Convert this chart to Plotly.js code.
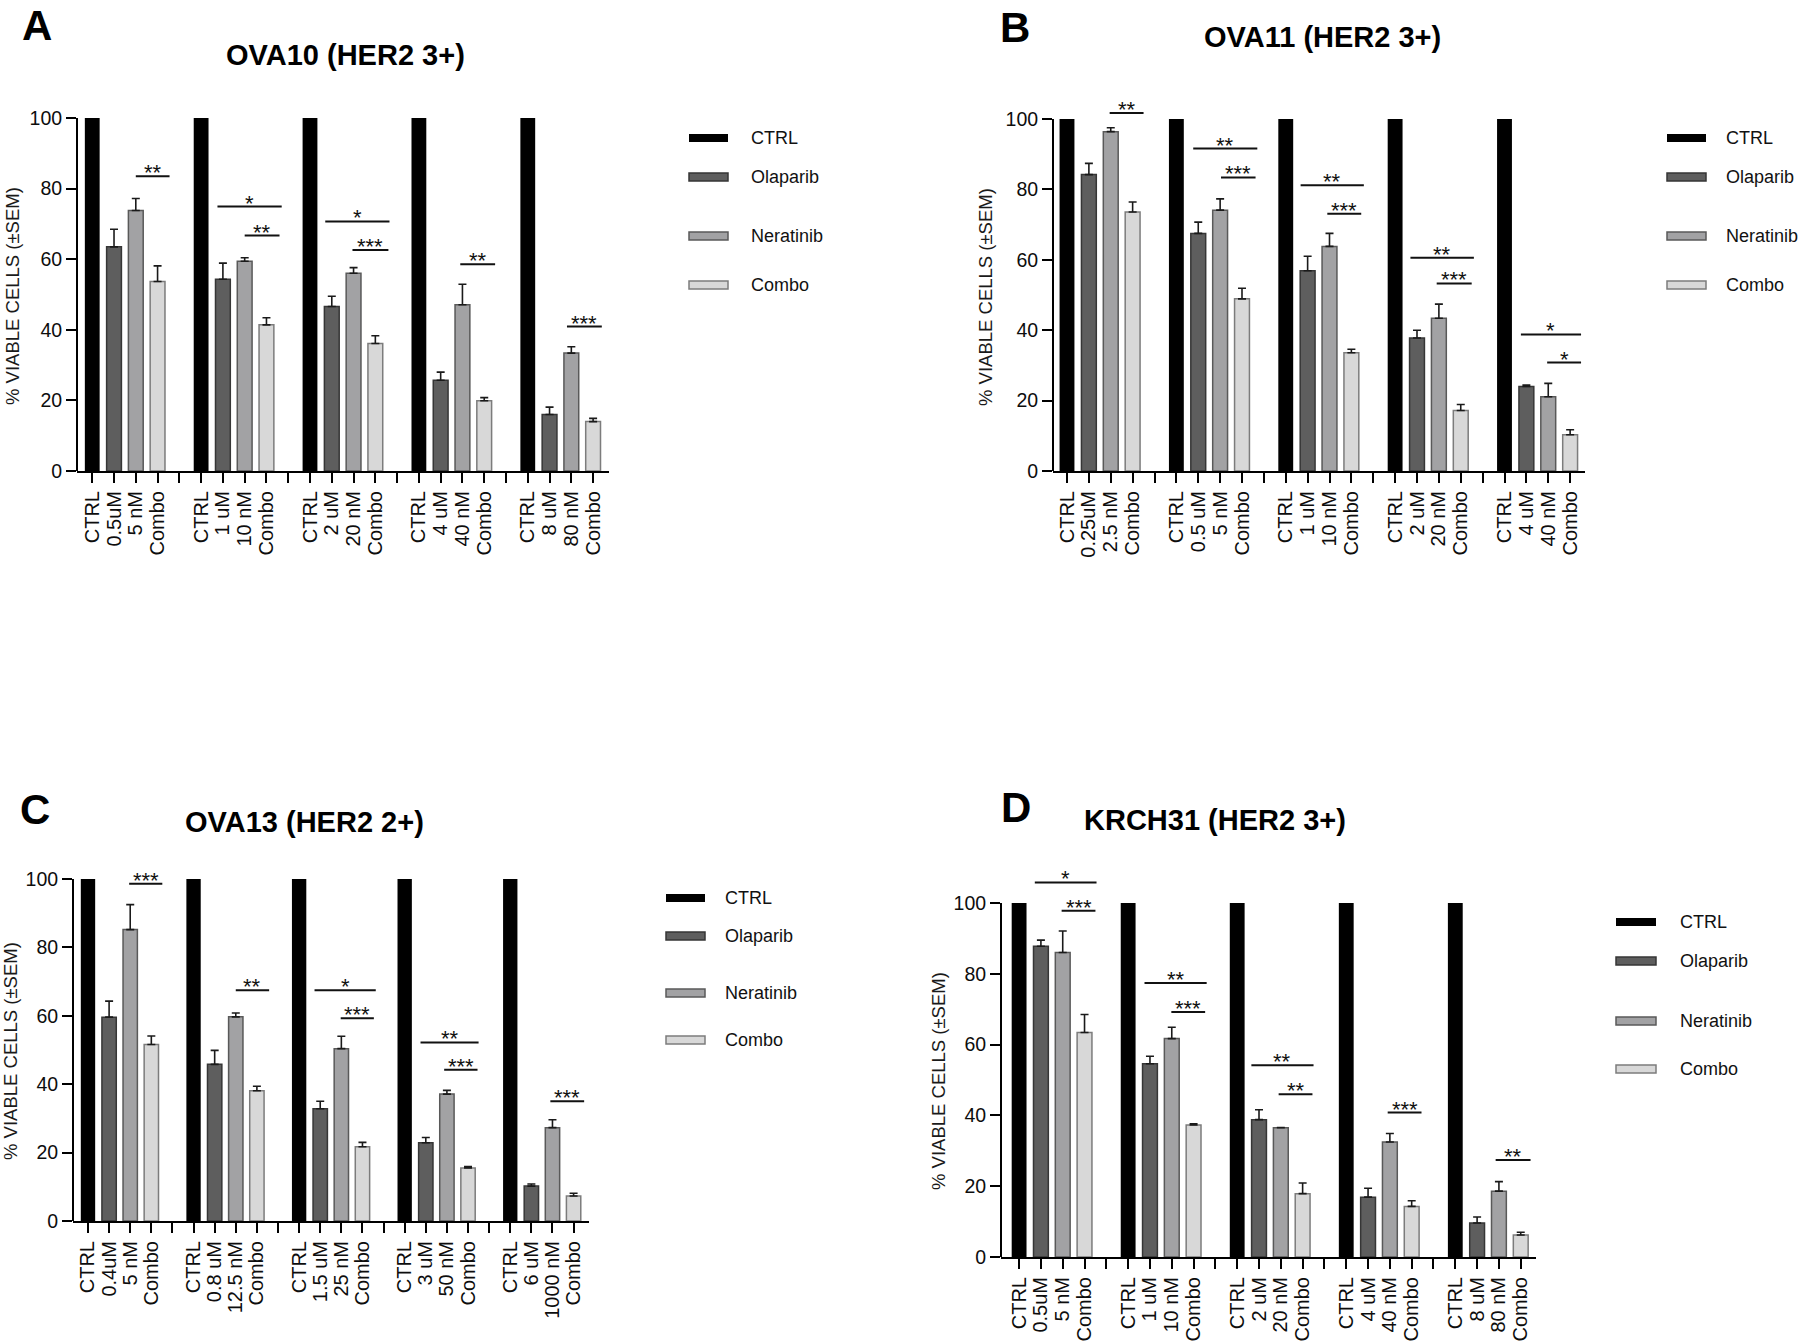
<!DOCTYPE html>
<html>
<head>
<meta charset="utf-8">
<script src="https://cdn.plot.ly/plotly-3.0.1.min.js"></script>
<style>
  html, body { margin: 0; padding: 0; background: #ffffff; }
  #chart { width: 1800px; height: 1342px; }
</style>
</head>
<body>
<div id="chart"></div>
<script>
// ---------------- DATA ----------------
const seriesNames = ['CTRL', 'Olaparib', 'Neratinib', 'Combo'];

// Panel A - OVA10 (HER2 3+)
const A_olapLabels = ['0.5uM', '1 uM', '2 uM', '4 uM', '8 uM'];
const A_neraLabels = ['5 nM', '10 nM', '20 nM', '40 nM', '80 nM'];
const A_ctrl      = [100, 100, 100, 100, 100];
const A_olap      = [63.5, 54.3, 46.6, 25.7, 16.0];
const A_olapErr   = [5.0, 4.6, 2.9, 2.3, 2.1];
const A_nera      = [73.8, 59.4, 56.0, 47.1, 33.4];
const A_neraErr   = [3.4, 1.0, 1.6, 5.8, 1.8];
const A_combo     = [53.7, 41.4, 36.1, 19.9, 14.0];
const A_comboErr  = [4.4, 2.0, 2.2, 0.9, 0.9];
// significance brackets: [from slot, to slot, level, label]
const A_sig = [
  [2.0, 3.55, 83.5, '**'],
  [5.75, 8.7, 74.9, '*'],
  [7.0, 8.6, 66.7, '**'],
  [10.7, 13.65, 70.7, '*'],
  [11.95, 13.6, 62.6, '***'],
  [16.9, 18.5, 58.6, '**'],
  [21.8, 23.4, 40.9, '***']
];

// Panel B - OVA11 (HER2 3+)
const B_olapLabels = ['0.25uM', '0.5 uM', '1 uM', '2 uM', '4 uM'];
const B_neraLabels = ['2.5 nM', '5 nM', '10 nM', '20 nM', '40 nM'];
const B_ctrl      = [100, 100, 100, 100, 100];
const B_olap      = [84.2, 67.5, 56.9, 37.8, 24.0];
const B_olapErr   = [3.2, 3.2, 4.1, 2.2, 0.4];
const B_nera      = [96.4, 74.1, 63.8, 43.4, 21.1];
const B_neraErr   = [1.1, 3.2, 3.7, 4.0, 3.8];
const B_combo     = [73.6, 48.9, 33.6, 17.2, 10.3];
const B_comboErr  = [2.8, 3.0, 1.0, 1.7, 1.4];
const B_sig = [
  [1.95, 3.5, 101.7, '**'],
  [5.77, 8.7, 91.6, '**'],
  [7.04, 8.62, 83.4, '***'],
  [10.68, 13.57, 81.2, '**'],
  [11.9, 13.45, 73.1, '***'],
  [15.7, 18.6, 60.6, '**'],
  [16.9, 18.5, 53.3, '***'],
  [20.75, 23.5, 38.8, '*'],
  [21.95, 23.5, 30.8, '*']
];

// Panel C - OVA13 (HER2 2+)
const C_olapLabels = ['0.4uM', '0.8 uM', '1.5 uM', '3 uM', '6 uM'];
const C_neraLabels = ['5 nM', '12.5 nM', '25 nM', '50 nM', '1000 nM'];
const C_ctrl      = [100, 100, 100, 100, 100];
const C_olap      = [59.6, 45.8, 32.8, 22.9, 10.2];
const C_olapErr   = [4.7, 4.1, 2.2, 1.5, 0.6];
const C_nera      = [85.2, 59.7, 50.4, 37.1, 27.3];
const C_neraErr   = [7.3, 1.1, 3.6, 1.1, 2.3];
const C_combo     = [51.6, 38.1, 21.7, 15.5, 7.3];
const C_comboErr  = [2.5, 1.3, 1.3, 0.4, 0.8];
const C_sig = [
  [1.95, 3.52, 98.6, '***'],
  [7.0, 8.58, 67.5, '**'],
  [10.73, 13.63, 67.5, '*'],
  [11.97, 13.54, 59.3, '***'],
  [15.75, 18.5, 52.2, '**'],
  [16.87, 18.45, 44.2, '***'],
  [21.9, 23.5, 35.0, '***']
];

// Panel D - KRCH31 (HER2 3+)
const D_olapLabels = ['0.5uM', '1 uM', '2 uM', '4 uM', '8 uM'];
const D_neraLabels = ['5 nM', '10 nM', '20 nM', '40 nM', '80 nM'];
const D_ctrl      = [100, 100, 100, 100, 100];
const D_olap      = [87.8, 54.6, 38.8, 16.9, 9.6];
const D_olapErr   = [1.7, 2.1, 2.8, 2.5, 1.7];
const D_nera      = [86.0, 61.7, 36.5, 32.5, 18.6];
const D_neraErr   = [6.1, 3.2, 0.1, 2.4, 2.7];
const D_combo     = [63.4, 37.3, 17.9, 14.3, 6.2];
const D_comboErr  = [5.1, 0.3, 3.0, 1.6, 0.8];
const D_sig = [
  [0.72, 3.55, 105.8, '*'],
  [1.95, 3.5, 97.8, '***'],
  [5.75, 8.6, 77.4, '**'],
  [6.98, 8.53, 69.2, '***'],
  [10.65, 13.5, 54.2, '**'],
  [11.9, 13.45, 46.0, '**'],
  [16.9, 18.45, 40.8, '***'],
  [21.85, 23.45, 27.4, '**']
];

// ---------------- STYLE / LAYOUT ----------------
const W = 1800, H = 1342;
const FONT = 'Liberation Sans, Arial, Helvetica, sans-serif';
const fills = ['#000000', '#5e5e5e', '#a2a2a4', '#d8d8d8'];
const edges = ['#000000', '#363636', '#595959', '#7c7c7c'];
const YMAX = 110;

const panels = [
  { letter: 'A', title: 'OVA10 (HER2 3+)', olapLabels: A_olapLabels, neraLabels: A_neraLabels,
    vals: [A_ctrl, A_olap, A_nera, A_combo], errs: [null, A_olapErr, A_neraErr, A_comboErr], sig: A_sig,
    g: { x0: 77, x1: 609, yTop: 118, yBot: 471, xmin: -0.7, xmax: 23.73 },
    letterPos: [37, 26], titlePos: [345, 55], yTitlePos: [12, 296],
    legend: { sx: 689, sw: 39, tx: 749, ys: [138, 177, 236, 285] } },
  { letter: 'B', title: 'OVA11 (HER2 3+)', olapLabels: B_olapLabels, neraLabels: B_neraLabels,
    vals: [B_ctrl, B_olap, B_nera, B_combo], errs: [null, B_olapErr, B_neraErr, B_comboErr], sig: B_sig,
    g: { x0: 1053, x1: 1585, yTop: 119, yBot: 471, xmin: -0.64, xmax: 23.68 },
    letterPos: [1015, 27], titlePos: [1322, 37], yTitlePos: [985, 297],
    legend: { sx: 1667, sw: 39, tx: 1724, ys: [138, 177, 236, 285] } },
  { letter: 'C', title: 'OVA13 (HER2 2+)', olapLabels: C_olapLabels, neraLabels: C_neraLabels,
    vals: [C_ctrl, C_olap, C_nera, C_combo], errs: [null, C_olapErr, C_neraErr, C_comboErr], sig: C_sig,
    g: { x0: 73, x1: 589, yTop: 879, yBot: 1221, xmin: -0.71, xmax: 23.73 },
    letterPos: [35, 809], titlePos: [304, 822], yTitlePos: [10, 1051],
    legend: { sx: 666, sw: 39, tx: 723, ys: [898, 936, 993, 1040] } },
  { letter: 'D', title: 'KRCH31 (HER2 3+)', olapLabels: D_olapLabels, neraLabels: D_neraLabels,
    vals: [D_ctrl, D_olap, D_nera, D_combo], errs: [null, D_olapErr, D_neraErr, D_comboErr], sig: D_sig,
    g: { x0: 1001, x1: 1536, yTop: 903, yBot: 1257, xmin: -0.83, xmax: 23.7 },
    letterPos: [1016, 807], titlePos: [1215, 820], yTitlePos: [938, 1081],
    legend: { sx: 1616, sw: 40, tx: 1678, ys: [922, 961, 1021, 1069] } }
];

const px = v => v / W;
const py = v => 1 - v / H;

const traces = [];
const layout = {
  width: W, height: H,
  margin: { l: 0, r: 0, t: 0, b: 0 },
  paper_bgcolor: '#ffffff', plot_bgcolor: 'rgba(0,0,0,0)',
  showlegend: false,
  barmode: 'overlay',
  font: { family: FONT, color: '#000' },
  shapes: [], annotations: []
};

panels.forEach((p, i) => {
  const n = i === 0 ? '' : String(i + 1);
  const xa = 'x' + n, ya = 'y' + n;
  const g = p.g;

  // bars
  for (let s = 0; s < 4; s++) {
    const xs = p.vals[s].map((_, k) => k * 5 + s);
    const tr = {
      type: 'bar', x: xs, y: p.vals[s], name: seriesNames[s],
      xaxis: xa, yaxis: ya, width: 0.68,
      marker: { color: fills[s], line: { color: edges[s], width: s === 0 ? 0 : 1.5 } },
      hoverinfo: 'skip'
    };
    if (p.errs[s]) {
      tr.error_y = { type: 'data', symmetric: false, array: p.errs[s],
                     arrayminus: p.errs[s].map(() => 0),
                     color: '#1a1a1a', thickness: 1.6, width: 4 };
    }
    traces.push(tr);
  }

  // tick labels for every slot (gap slots blank)
  const tickvals = [], ticktext = [];
  for (let k = 0; k < 5; k++) {
    const labs = ['CTRL', p.olapLabels[k], p.neraLabels[k], 'Combo'];
    for (let s = 0; s < 4; s++) { tickvals.push(k * 5 + s); ticktext.push(labs[s]); }
    if (k < 4) { tickvals.push(k * 5 + 4); ticktext.push(''); }
  }

  const pxPerUnit = (g.yBot - g.yTop) / 100;
  const yTopExt = g.yBot - pxPerUnit * YMAX;

  layout['xaxis' + n] = {
    domain: [px(g.x0), px(g.x1)], anchor: ya, range: [g.xmin, g.xmax],
    tickmode: 'array', tickvals: tickvals, ticktext: ticktext, tickangle: -90,
    ticks: 'outside', ticklen: 10, tickwidth: 2, tickcolor: '#000',
    showline: true, linewidth: 2, linecolor: '#000',
    showgrid: false, zeroline: false, fixedrange: true,
    tickfont: { family: FONT, size: 20, color: '#0d0d0d' }
  };
  layout['yaxis' + n] = {
    domain: [py(g.yBot), py(yTopExt)], anchor: xa, range: [0, YMAX],
    tickmode: 'array', tickvals: [0, 20, 40, 60, 80, 100],
    ticks: 'outside', ticklen: 10, tickwidth: 2, tickcolor: '#000',
    showline: false, showgrid: false, zeroline: false, fixedrange: true,
    tickfont: { family: FONT, size: 19.5, color: '#0d0d0d' }
  };

  // y axis line from 0 to 100 only
  layout.shapes.push({ type: 'line', xref: xa + ' domain', yref: ya, x0: 0, x1: 0, y0: 0, y1: 100,
                       line: { color: '#000', width: 2 } });

  // significance brackets
  p.sig.forEach(sg => {
    layout.shapes.push({ type: 'line', xref: xa, yref: ya, x0: sg[0], x1: sg[1], y0: sg[2], y1: sg[2],
                         line: { color: '#111', width: 2 } });
    layout.annotations.push({ xref: xa, yref: ya, x: (sg[0] + sg[1]) / 2, y: sg[2], text: sg[3],
                              showarrow: false, xanchor: 'center', yanchor: 'bottom', yshift: -11,
                              font: { family: FONT, size: 22, color: '#111' } });
  });

  // legend (manual, uneven spacing as in reference)
  const L = p.legend;
  for (let s = 0; s < 4; s++) {
    const yc = L.ys[s];
    layout.shapes.push({ type: 'rect', xref: 'paper', yref: 'paper',
      x0: px(L.sx), x1: px(L.sx + L.sw), y0: py(yc + 4), y1: py(yc - 4),
      fillcolor: fills[s], line: { color: edges[s], width: s === 0 ? 0 : 1.5 } });
    layout.annotations.push({ xref: 'paper', yref: 'paper', x: px(L.tx), y: py(yc), text: seriesNames[s],
      showarrow: false, xanchor: 'left', yanchor: 'middle',
      font: { family: FONT, size: 18, color: '#111' } });
  }

  // panel letter, title, y-axis title
  layout.annotations.push({ xref: 'paper', yref: 'paper', x: px(p.letterPos[0]), y: py(p.letterPos[1]),
    text: '<b>' + p.letter + '</b>', showarrow: false, xanchor: 'center', yanchor: 'middle',
    font: { family: FONT, size: 42, color: '#000' } });
  layout.annotations.push({ xref: 'paper', yref: 'paper', x: px(p.titlePos[0]), y: py(p.titlePos[1]),
    text: '<b>' + p.title + '</b>', showarrow: false, xanchor: 'center', yanchor: 'middle',
    font: { family: FONT, size: 29, color: '#000' } });
  layout.annotations.push({ xref: 'paper', yref: 'paper', x: px(p.yTitlePos[0]), y: py(p.yTitlePos[1]),
    text: '% VIABLE CELLS (±SEM)', textangle: -90, showarrow: false, xanchor: 'center', yanchor: 'middle',
    font: { family: FONT, size: 18.5, color: '#1a1a1a' } });
});

Plotly.newPlot('chart', traces, layout, { staticPlot: true, displayModeBar: false });
</script>
</body>
</html>
